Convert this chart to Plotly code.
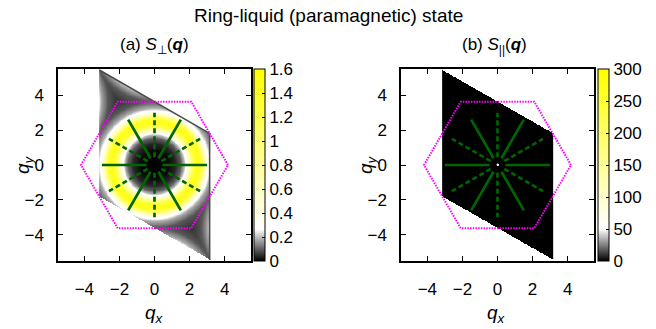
import numpy as np
import plotly.graph_objects as go

# ---- data -------------------------------------------------------------
# radial profile of S_perp versus distance to the nearest reciprocal lattice point
ring_d = [0.0, 0.8, 1.2, 1.5, 1.7, 1.85, 2.0, 2.2, 2.4, 2.6, 2.75, 2.9, 3.05, 3.25, 3.63, 4.2]
ring_s = [0.0, 0.01, 0.04, 0.1, 0.2, 0.35, 0.7, 1.2, 1.5, 1.4, 1.0, 0.55, 0.3, 0.18, 0.09, 0.05]

# S_parallel: Bragg peak at q = 0, zero elsewhere
peak_d = [0.0, 0.04, 0.08]
peak_s = [120.0, 60.0, 0.0]

# spokes: solid and dashed directions (degrees), inner/outer radius
solid_angles = [0, 60, 120, 180, 240, 300]
dashed_angles = [30, 90, 150, 210, 270, 330]
spoke_r = [0.45, 3.0]

tick_vals = [-4, -2, 0, 2, 4]
cbar_a_ticks = [0, 0.2, 0.4, 0.6, 0.8, 1, 1.2, 1.4, 1.6]
cbar_b_ticks = [0, 50, 100, 150, 200, 250, 300]

# ---- geometry ---------------------------------------------------------
pi = np.pi
s3 = np.sqrt(3.0)
b1 = np.array([0.0, 4 * pi / s3])
b2 = np.array([2 * pi, -2 * pi / s3])

nx, ny = 240, 420
xs = np.linspace(-pi, pi, nx)
ys = np.linspace(-pi * s3, pi * s3, ny)
X, Y = np.meshgrid(xs, ys)
inside = (np.abs(X) <= pi + 1e-9) & (np.abs(Y + X / s3) <= 2 * pi / s3 + 1e-9)

dmin = np.full(X.shape, np.inf)
for m in range(-2, 3):
    for n in range(-2, 3):
        g = m * b1 + n * b2
        dmin = np.minimum(dmin, np.hypot(X - g[0], Y - g[1]))

za = np.interp(dmin, ring_d, ring_s)
za = np.where(inside, np.round(za, 4), np.nan)
zb = np.interp(np.hypot(X, Y), peak_d, peak_s)
zb = np.where(inside, np.round(zb, 3), np.nan)

cscale = [[0.0, "#000000"], [1 / 6, "#ffffff"], [1.0, "#ffff00"]]

W, H = 656, 329
xa_dom = [58 / W, 251 / W]
xb_dom = [401 / W, 594 / W]
y_dom = [(H - 261) / H, (H - 69) / H]

FONT = "Liberation Sans, Arial, Helvetica, sans-serif"
fig = go.Figure()


def cbar(x_left, ticks):
    return dict(
        x=x_left, xanchor="left", xpad=0, y=(y_dom[0] + y_dom[1]) / 2, yanchor="middle",
        len=y_dom[1] - y_dom[0], lenmode="fraction", thickness=11, thicknessmode="pixels",
        outlinewidth=1, outlinecolor="black", ticks="inside", ticklen=3, tickcolor="black",
        tickvals=ticks, ticktext=[f"{t:g}" for t in ticks],
        tickfont=dict(family=FONT, size=17, color="black"), ypad=0,
    )


fig.add_trace(go.Heatmap(
    x=xs, y=ys, z=za, zmin=0, zmax=1.6, colorscale=cscale, zsmooth=False,
    colorbar=cbar(254 / W, cbar_a_ticks), hoverinfo="skip", xaxis="x", yaxis="y",
))
fig.add_trace(go.Heatmap(
    x=xs, y=ys, z=zb, zmin=0, zmax=300, colorscale=cscale, zsmooth=False,
    colorbar=cbar(598 / W, cbar_b_ticks), hoverinfo="skip", xaxis="x2", yaxis="y2",
))

# dark rim along the upper and right edges of the zone in panel (a)
rim_x = [-pi, pi, pi]
rim_y = [pi * s3, pi / s3, -pi * s3]
fig.add_trace(go.Scatter(x=rim_x, y=rim_y, mode="lines",
                         line=dict(color="#4a4a4a", width=1.5),
                         showlegend=False, hoverinfo="skip", xaxis="x", yaxis="y"))

# hexagonal Brillouin zone
ang = np.deg2rad(np.arange(0, 361, 60))
hex_x = (4 * pi / 3) * np.cos(ang)
hex_y = (4 * pi / 3) * np.sin(ang)

for xa, ya in (("x", "y"), ("x2", "y2")):
    fig.add_trace(go.Scatter(x=hex_x, y=hex_y, mode="lines",
                             line=dict(color="#ff00ff", width=2, dash="1.5px,1.2px"),
                             showlegend=False, hoverinfo="skip", xaxis=xa, yaxis=ya))
    for angs, dash in ((solid_angles, "solid"), (dashed_angles, "5px,3px")):
        for a in angs:
            t = np.deg2rad(a)
            fig.add_trace(go.Scatter(
                x=[spoke_r[0] * np.cos(t), spoke_r[1] * np.cos(t)],
                y=[spoke_r[0] * np.sin(t), spoke_r[1] * np.sin(t)],
                mode="lines", line=dict(color="#006400", width=2.7, dash=dash),
                showlegend=False, hoverinfo="skip", xaxis=xa, yaxis=ya))

axis_common = dict(
    range=[-5.5, 5.5], tickvals=tick_vals, ticks="inside", ticklen=5, tickwidth=1,
    tickcolor="black", showline=True, linecolor="black", linewidth=1.5, mirror="ticks",
    showgrid=False, zeroline=False, tickfont=dict(family=FONT, size=17, color="black"),
    fixedrange=True,
)

fig.update_layout(
    width=W, height=H, margin=dict(l=0, r=0, t=0, b=0),
    paper_bgcolor="white", plot_bgcolor="white", showlegend=False,
    xaxis=dict(domain=xa_dom, anchor="y", ticklabelstandoff=12, **axis_common),
    yaxis=dict(domain=y_dom, anchor="x", ticklabelstandoff=9, **axis_common),
    xaxis2=dict(domain=xb_dom, anchor="y2", ticklabelstandoff=12, **axis_common),
    yaxis2=dict(domain=y_dom, anchor="x2", ticklabelstandoff=9, **axis_common),
    font=dict(family=FONT, color="black"),
)


def ann(text, xp, yp, size, angle=0):
    fig.add_annotation(text=text, x=xp / W, y=1 - yp / H, xref="paper", yref="paper",
                       showarrow=False, xanchor="center", yanchor="middle",
                       textangle=angle, font=dict(family=FONT, size=size, color="black"))


ann("Ring-liquid (paramagnetic) state", 328, 15, 19)
ann("(a) <i>S</i><sub>⊥</sub>(<b><i>q</i></b>)", 154, 46, 17)
ann("(b) <i>S</i><sub>||</sub>(<b><i>q</i></b>)", 495, 46, 17)
for cx in (154, 497):
    ann("<i>q</i><sub><i>x</i></sub>", cx, 314, 19)
for cx in (24, 367):
    ann("<i>q</i><sub><i>y</i></sub>", cx, 165, 19, angle=-90)

fig.write_html("out.html")
